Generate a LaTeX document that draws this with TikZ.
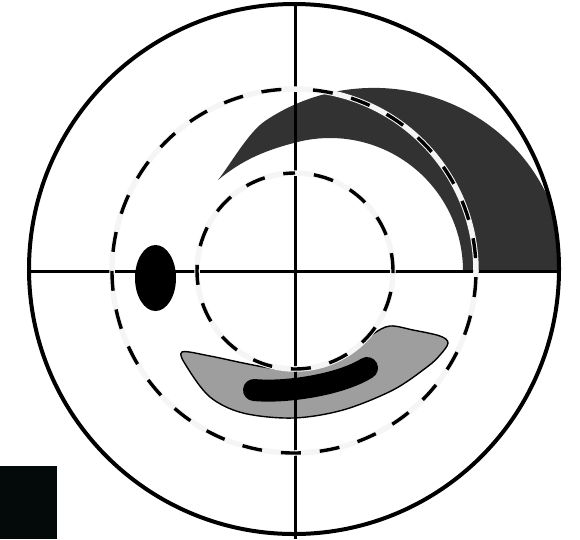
\documentclass[tikz,border=0pt]{standalone}
\usepackage{tikz}
\usetikzlibrary{calc}

\definecolor{lesiondark}{RGB}{50,50,50}
\definecolor{lesiongray}{RGB}{158,158,158}
\definecolor{cornerbox}{RGB}{4,10,10}

\begin{document}
\begin{tikzpicture}[x=1pt, y=-1pt,
		axisline/.style={line width=3pt},
		ringback/.style={line width=5.5pt, black!4},
		ringdash/.style={line width=3.4pt, dash pattern=on 20pt off 19pt, dash phase=20pt}]
		\useasboundingbox (0,0) rectangle (580,539);

		% Centres
		\coordinate (O) at (294,269);
		\coordinate (M) at (294,271);

		% Dark crescent, upper right
		\begin{scope}
			\clip (O) circle[radius=265];
			\fill[lesiondark] (463,271) arc[start angle=0, end angle=-105, radius=133]
				.. controls (260.6,151.5) and (240,162) .. (218,180)
				.. controls (230,165) and (248.4,132.2) .. (265,121)
				arc[start angle=-125, end angle=0, x radius=190, y radius=183] -- cycle;
		\end{scope}

		% Grey crescent with black bar
		\draw[line width=1.4pt, fill=lesiongray] plot[smooth cycle, tension=0.55] coordinates {
			(182,352) (210,356) (243,363) (270,368) (293,370) (327,363) (353,350)
			(373,334) (390,326) (413,330) (440,336) (448,343) (440,355) (427,367)
			(393,390) (343,410) (293,418) (243,413) (210,397) (187,367)};
		\draw[line width=22pt, line cap=round] (254,390) .. controls (285,393) and (340,385) .. (367,368);

		% Black spot
		\fill (155.5,278) ellipse[x radius=20.5, y radius=33];

		% Cross
		\draw[axisline] (29,271) -- (559,271);
		\draw[axisline] (295,4) -- (295,539);

		% Dashed rings
		\draw[ringback] (M) circle[radius=182];
		\draw[ringdash] (294,89) arc[start angle=-90, delta angle=360, radius=182];
		\draw[ringback] (295,271) circle[radius=98];
		\draw[ringdash] (295,173) arc[start angle=-90, delta angle=360, radius=98];

		% Outer circle
		\draw[line width=4pt] (O) circle[radius=265];

		% Corner box
		\fill[cornerbox] (0,466) rectangle (57,539);
	\end{tikzpicture}
\end{document}
